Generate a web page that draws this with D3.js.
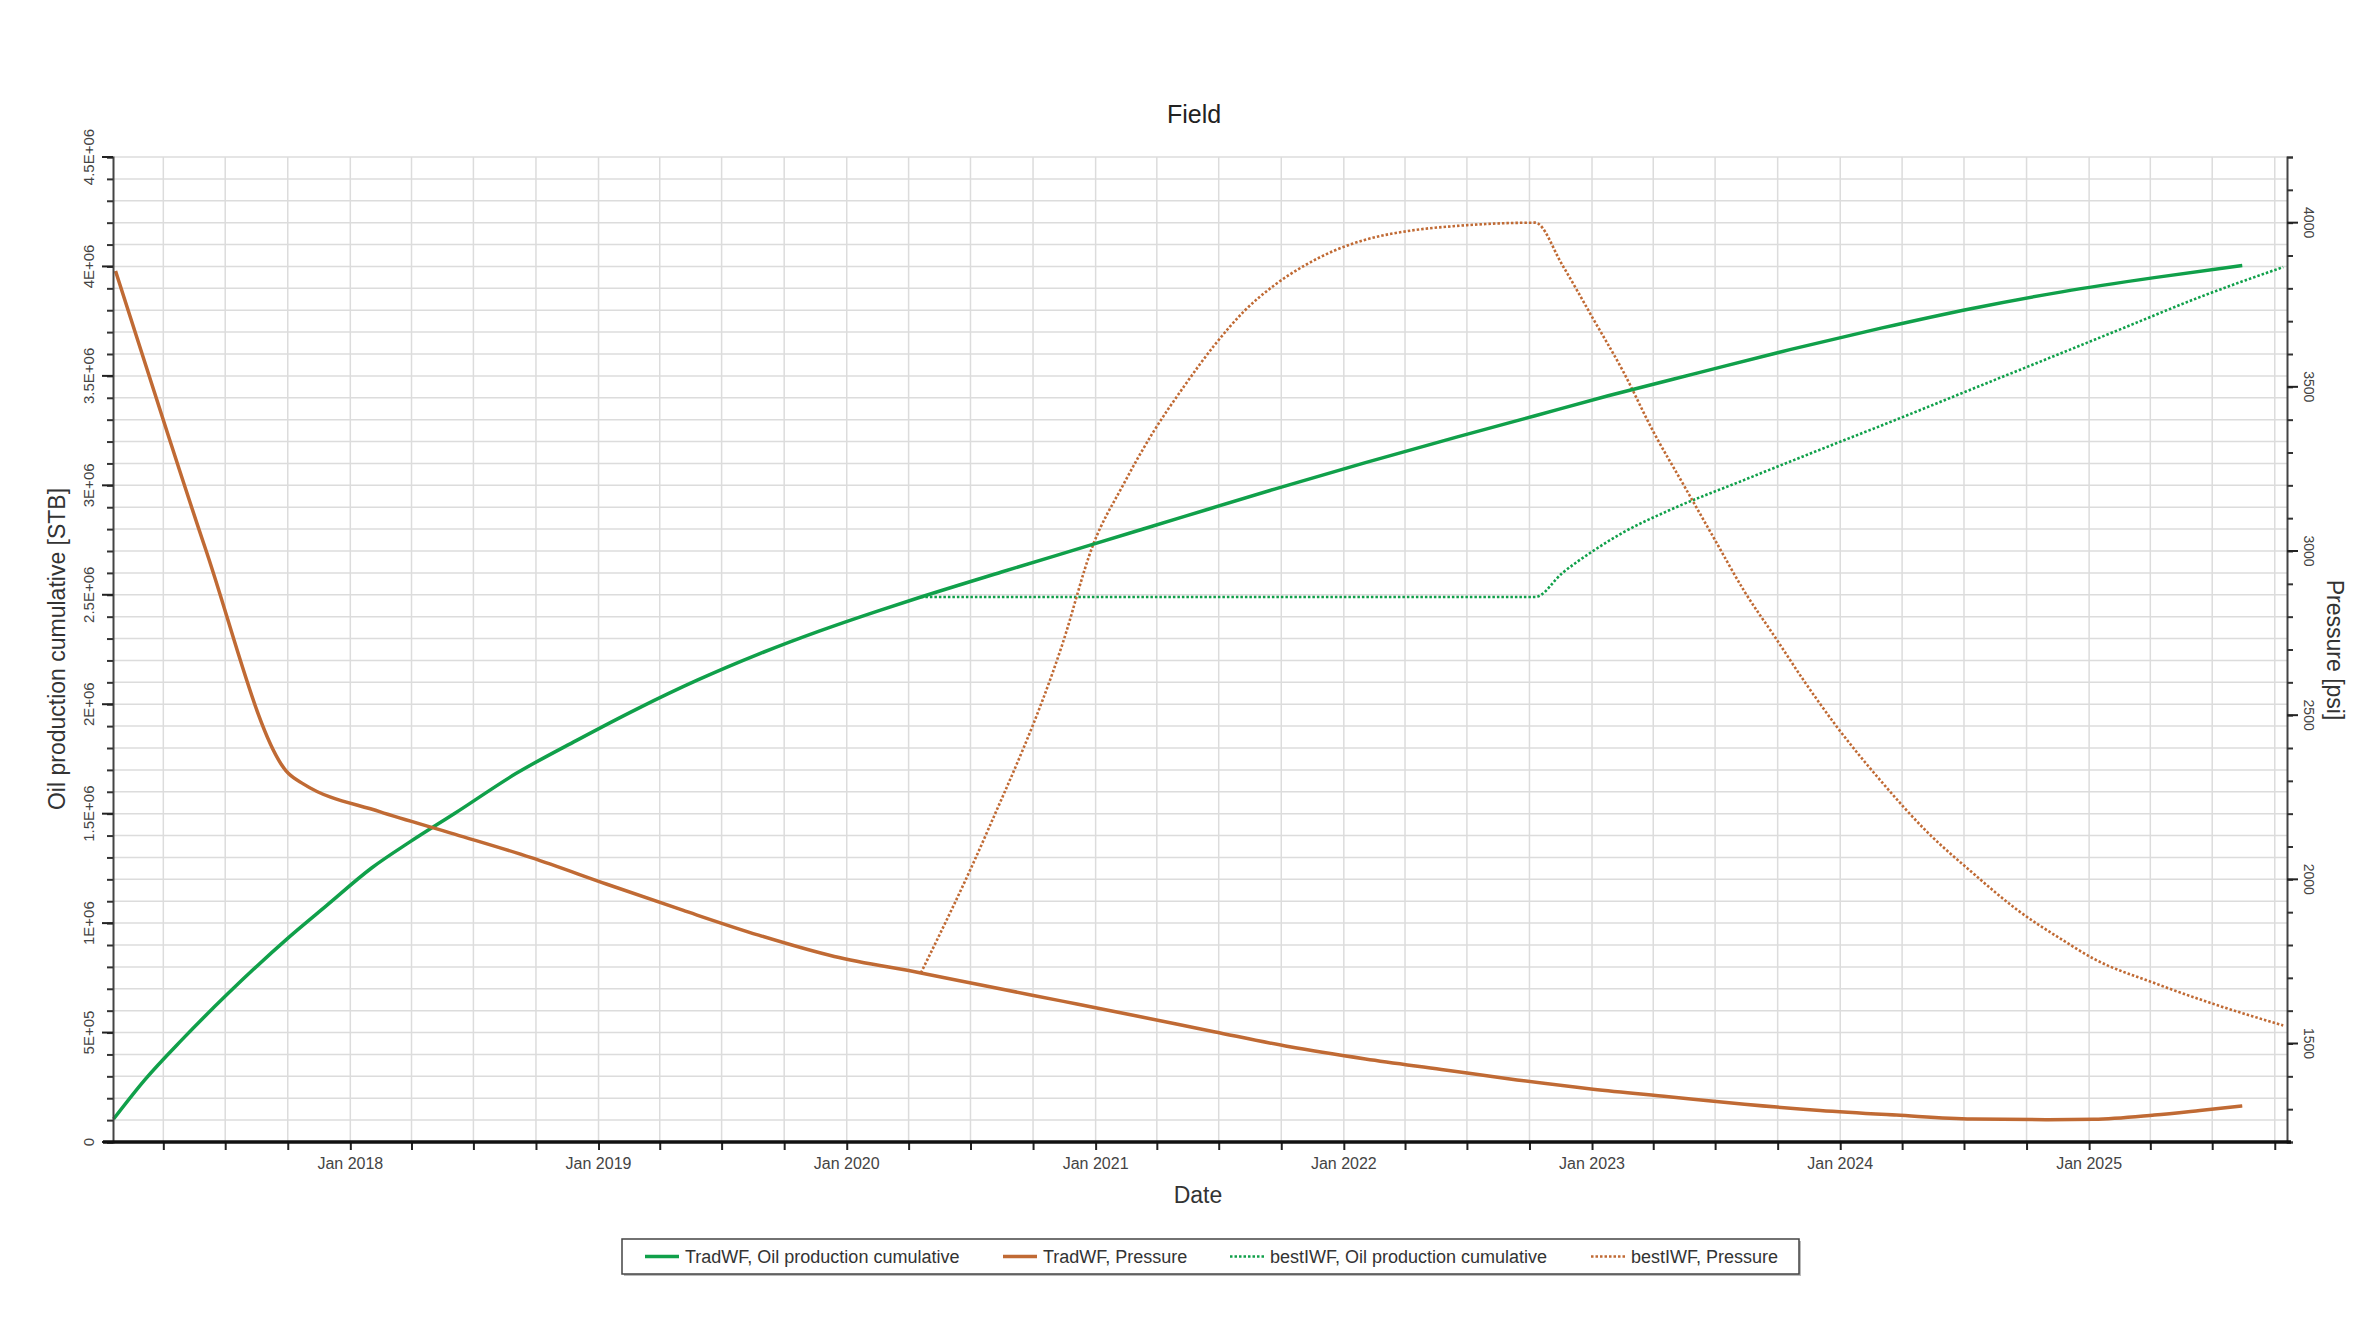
<!DOCTYPE html>
<html><head><meta charset="utf-8">
<script src="https://cdn.jsdelivr.net/npm/d3@7"></script>
<style>
html,body{margin:0;padding:0;background:#fff;}
svg{display:block;font-family:"Liberation Sans", Arial, sans-serif;}
</style></head><body>
<svg id="chart" width="2379" height="1332"></svg>
<script>
// ---------- data ----------
const chartTitle = "Field";
const xAxisTitle = "Date";
const leftAxisTitle = "Oil production cumulative [STB]";
const rightAxisTitle = "Pressure [psi]";
const seriesNames = ["TradWF, Oil production cumulative", "TradWF, Pressure", "bestIWF, Oil production cumulative", "bestIWF, Pressure"];
const xDomain = ["2017-01-17", "2025-10-19"];
const leftTickValues = [0, 5e5, 1e6, 1.5e6, 2e6, 2.5e6, 3e6, 3.5e6, 4e6, 4.5e6];
const leftTickLabels = ["0", "5E+05", "1E+06", "1.5E+06", "2E+06", "2.5E+06", "3E+06", "3.5E+06", "4E+06", "4.5E+06"];
const rightTickValues = [1500, 2000, 2500, 3000, 3500, 4000];
const rightTickLabels = ["1500", "2000", "2500", "3000", "3500", "4000"];
const leftDomain = [0, 4.5e6];
const rightDomain = [1200, 4200];

// [decimal year, STB]
const tradOil = [
  [2017.046, 0.105e6], [2017.171, 0.283e6], [2017.324, 0.470e6], [2017.507, 0.678e6],
  [2017.751, 0.934e6], [2017.904, 1.080e6], [2018.087, 1.253e6], [2018.240, 1.371e6],
  [2018.423, 1.503e6], [2018.667, 1.683e6], [2018.912, 1.835e6], [2019.156, 1.979e6],
  [2019.400, 2.111e6], [2019.645, 2.229e6], [2019.889, 2.334e6], [2020.133, 2.429e6],
  [2020.298, 2.490e6], [2020.622, 2.604e6], [2020.988, 2.730e6], [2021.355, 2.857e6],
  [2021.721, 2.983e6], [2022.087, 3.104e6], [2022.454, 3.220e6], [2022.771, 3.318e6],
  [2023.065, 3.409e6], [2023.431, 3.515e6], [2023.797, 3.620e6], [2024.164, 3.718e6],
  [2024.530, 3.808e6], [2024.896, 3.885e6], [2025.263, 3.949e6], [2025.617, 4.004e6]
];
// [decimal year, psi]
const tradPressure = [
  [2017.054, 3853], [2017.263, 3360], [2017.415, 3010], [2017.751, 2322],
  [2017.812, 2290], [2018.118, 2206], [2018.423, 2137], [2018.729, 2066],
  [2019.034, 1985], [2019.339, 1906], [2019.645, 1830], [2019.950, 1765],
  [2020.298, 1715], [2020.560, 1675], [2020.866, 1629], [2021.171, 1583],
  [2021.477, 1536], [2021.782, 1490], [2022.087, 1453], [2022.393, 1421],
  [2022.698, 1389], [2023.004, 1361], [2023.309, 1338], [2023.614, 1315],
  [2023.919, 1296], [2024.225, 1282], [2024.530, 1270], [2024.836, 1268],
  [2025.019, 1269], [2025.263, 1282], [2025.446, 1296], [2025.617, 1310]
];
// [decimal year, STB]
const bestOil = [
  [2020.298, 2.490e6], [2021.000, 2.490e6], [2021.800, 2.490e6], [2022.771, 2.490e6],
  [2022.881, 2.600e6], [2023.004, 2.700e6], [2023.126, 2.785e6], [2023.309, 2.885e6],
  [2023.614, 3.025e6], [2023.919, 3.163e6], [2024.225, 3.300e6], [2024.530, 3.440e6],
  [2024.836, 3.580e6], [2025.141, 3.720e6], [2025.446, 3.860e6], [2025.782, 3.997e6]
];
// [decimal year, psi]
const bestPressure = [
  [2020.298, 1715], [2020.560, 2137], [2020.866, 2715], [2020.988, 3015],
  [2021.110, 3200], [2021.232, 3362], [2021.355, 3500], [2021.477, 3625],
  [2021.599, 3731], [2021.721, 3810], [2021.843, 3870], [2021.965, 3916],
  [2022.087, 3948], [2022.271, 3976], [2022.454, 3990], [2022.771, 4000],
  [2022.881, 3870], [2023.004, 3708], [2023.126, 3546], [2023.248, 3362],
  [2023.370, 3200], [2023.492, 3038], [2023.614, 2877], [2023.737, 2738],
  [2023.859, 2599], [2023.981, 2470], [2024.164, 2299], [2024.347, 2146],
  [2024.530, 2021], [2024.713, 1906], [2024.896, 1814], [2025.019, 1758],
  [2025.263, 1684], [2025.507, 1619], [2025.782, 1555]
];

// ---------- layout ----------
const W = 2379, H = 1332;
const plot = {left: 113, right: 2287, top: 157, bottom: 1142};
const green = "#10a04a", brown = "#c06a34";
const gridColor = "#dcdcdc";

function yearToDate(y) {
  const yr = Math.floor(y);
  const s = Date.UTC(yr, 0, 1), e = Date.UTC(yr + 1, 0, 1);
  return new Date(s + (y - yr) * (e - s));
}

const svg = d3.select("#chart");
svg.append("rect").attr("width", W).attr("height", H).attr("fill", "#fff");

const x = d3.scaleUtc().domain(xDomain.map(d => new Date(d + "T00:00:00Z"))).range([plot.left, plot.right]);
const yL = d3.scaleLinear().domain(leftDomain).range([plot.bottom, plot.top]);
const yR = d3.scaleLinear().domain(rightDomain).range([plot.bottom, plot.top]);

// grid
const quarterTicks = x.ticks(d3.utcMonth.every(3));
svg.append("g").selectAll("line").data(quarterTicks).join("line")
  .attr("x1", d => x(d)).attr("x2", d => x(d))
  .attr("y1", plot.top).attr("y2", plot.bottom)
  .attr("stroke", gridColor).attr("stroke-width", 1.5);
const leftMinor = d3.range(0, 4.5e6 + 1, 1e5);
svg.append("g").selectAll("line").data(leftMinor).join("line")
  .attr("x1", plot.left).attr("x2", plot.right)
  .attr("y1", d => yL(d)).attr("y2", d => yL(d))
  .attr("stroke", gridColor).attr("stroke-width", 1.5);

// lines
const lineL = d3.line().x(d => x(yearToDate(d[0]))).y(d => yL(d[1])).curve(d3.curveMonotoneX);
const lineR = d3.line().x(d => x(yearToDate(d[0]))).y(d => yR(d[1])).curve(d3.curveMonotoneX);

svg.append("path").datum(bestOil).attr("d", lineL).attr("fill", "none")
  .attr("stroke", green).attr("stroke-width", 2.6).attr("stroke-dasharray", "2.5,2");
svg.append("path").datum(bestPressure).attr("d", lineR).attr("fill", "none")
  .attr("stroke", brown).attr("stroke-width", 2.6).attr("stroke-dasharray", "2.5,2");
svg.append("path").datum(tradOil).attr("d", lineL).attr("fill", "none")
  .attr("stroke", green).attr("stroke-width", 3.5).attr("stroke-linejoin", "round");
svg.append("path").datum(tradPressure).attr("d", lineR).attr("fill", "none")
  .attr("stroke", brown).attr("stroke-width", 3.5).attr("stroke-linejoin", "round");

// left axis
const gL = svg.append("g").attr("transform", `translate(${plot.left},0)`);
gL.call(d3.axisLeft(yL).tickValues(leftMinor).tickSize(6).tickFormat(""))
  .call(g => g.select(".domain").attr("stroke", "#444").attr("stroke-width", 2))
  .call(g => g.selectAll(".tick line").attr("stroke", "#333").attr("stroke-width", 2));
gL.selectAll(".major").data(leftTickValues).join("line")
  .attr("x1", -11).attr("x2", 0).attr("y1", d => yL(d)).attr("y2", d => yL(d))
  .attr("stroke", "#222").attr("stroke-width", 2);
svg.append("g").selectAll("text").data(leftTickValues).join("text")
  .attr("transform", d => `translate(88,${yL(d)}) rotate(-90)`)
  .attr("text-anchor", "middle").attr("dominant-baseline", "central")
  .attr("font-size", 15).attr("fill", "#444")
  .text((d, i) => leftTickLabels[i]);

// right axis
const rightMinor = d3.range(1200, 4201, 100);
const gR = svg.append("g").attr("transform", `translate(${plot.right},0)`);
gR.call(d3.axisRight(yR).tickValues(rightMinor).tickSize(6).tickFormat(""))
  .call(g => g.select(".domain").attr("stroke", "#444").attr("stroke-width", 2))
  .call(g => g.selectAll(".tick line").attr("stroke", "#333").attr("stroke-width", 2));
gR.selectAll(".major").data(rightTickValues).join("line")
  .attr("x1", 0).attr("x2", 11).attr("y1", d => yR(d)).attr("y2", d => yR(d))
  .attr("stroke", "#222").attr("stroke-width", 2);
svg.append("g").selectAll("text").data(rightTickValues).join("text")
  .attr("transform", d => `translate(2309,${yR(d)}) rotate(90)`)
  .attr("text-anchor", "middle").attr("dominant-baseline", "central")
  .attr("font-size", 14).attr("fill", "#444")
  .text((d, i) => rightTickLabels[i]);

// bottom axis
const gB = svg.append("g").attr("transform", `translate(0,${plot.bottom})`);
gB.call(d3.axisBottom(x).tickValues(quarterTicks).tickSize(8).tickFormat(""))
  .call(g => g.select(".domain").remove())
  .call(g => g.selectAll(".tick line").attr("stroke", "#222").attr("stroke-width", 2));
gB.append("line").attr("x1", plot.left - 10).attr("x2", plot.right + 4)
  .attr("y1", 0).attr("y2", 0).attr("stroke", "#111").attr("stroke-width", 3.5);
const yearTicks = x.ticks(d3.utcYear.every(1));
gB.selectAll(".ylab").data(yearTicks).join("text")
  .attr("x", d => x(d)).attr("y", 27)
  .attr("text-anchor", "middle").attr("font-size", 16).attr("fill", "#444")
  .text(d => d3.utcFormat("%b %Y")(d));

// titles
svg.append("text").attr("x", 1194).attr("y", 123).attr("text-anchor", "middle")
  .attr("font-size", 25).attr("fill", "#222").text(chartTitle);
svg.append("text").attr("x", 1198).attr("y", 1203).attr("text-anchor", "middle")
  .attr("font-size", 23).attr("fill", "#333").text(xAxisTitle);
svg.append("text").attr("transform", "translate(57,649) rotate(-90)").attr("text-anchor", "middle")
  .attr("dominant-baseline", "central").attr("font-size", 23).attr("fill", "#333").text(leftAxisTitle);
svg.append("text").attr("transform", "translate(2335,650) rotate(90)").attr("text-anchor", "middle")
  .attr("dominant-baseline", "central").attr("font-size", 23).attr("fill", "#333").text(rightAxisTitle);

// legend
const leg = {x: 622, y: 1239, w: 1177, h: 35};
svg.append("rect").attr("x", leg.x + 2).attr("y", leg.y + 2).attr("width", leg.w).attr("height", leg.h)
  .attr("fill", "#bbb");
svg.append("rect").attr("x", leg.x).attr("y", leg.y).attr("width", leg.w).attr("height", leg.h)
  .attr("fill", "#fff").attr("stroke", "#444").attr("stroke-width", 1.5);
const legendItems = [
  {name: seriesNames[0], color: green, dash: null, x0: 645},
  {name: seriesNames[1], color: brown, dash: null, x0: 1003},
  {name: seriesNames[2], color: green, dash: "2.5,2", x0: 1230},
  {name: seriesNames[3], color: brown, dash: "2.5,2", x0: 1591}
];
const li = svg.append("g").selectAll("g").data(legendItems).join("g");
li.append("line").attr("x1", d => d.x0).attr("x2", d => d.x0 + 34)
  .attr("y1", leg.y + leg.h / 2).attr("y2", leg.y + leg.h / 2)
  .attr("stroke", d => d.color).attr("stroke-width", d => d.dash ? 2.6 : 3.5)
  .attr("stroke-dasharray", d => d.dash);
li.append("text").attr("x", d => d.x0 + 40).attr("y", leg.y + leg.h / 2)
  .attr("dominant-baseline", "central").attr("font-size", 18).attr("fill", "#333")
  .text(d => d.name);
</script>
</body></html>
